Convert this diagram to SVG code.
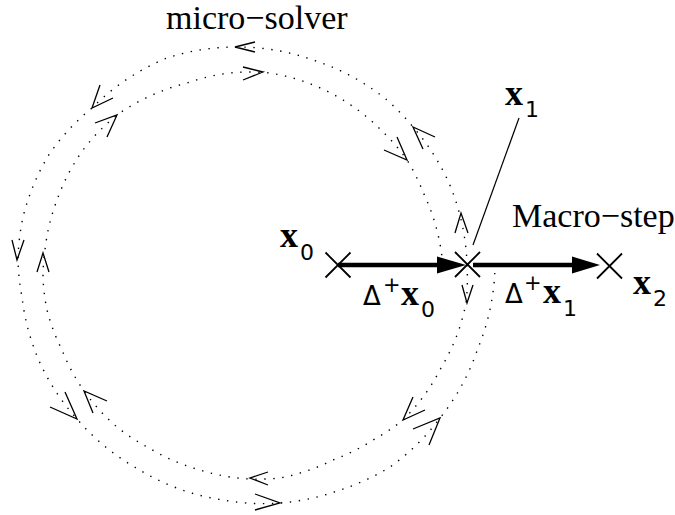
<svg xmlns="http://www.w3.org/2000/svg" width="675" height="515" viewBox="0 0 675 515">
<style>
.dot{fill:none;stroke:#000;stroke-width:1.4;stroke-dasharray:1.4 7.6}
.tick{fill:none;stroke:#000;stroke-width:1.3}
.cross{fill:none;stroke:#000;stroke-width:1.8}
.thick{fill:none;stroke:#000;stroke-width:4.5}
.head{fill:#000;stroke:none}
.lead{fill:none;stroke:#000;stroke-width:1.2}
.serif{font-family:"Liberation Serif","Times New Roman",serif;font-size:34px;fill:#000}
.bx{font-family:"Liberation Serif","Times New Roman",serif;font-weight:bold;font-size:36px;fill:#000}
.sub{font-family:"DejaVu Sans","Liberation Sans",sans-serif;font-size:22px;fill:#000}
.sup{font-family:"DejaVu Sans","Liberation Sans",sans-serif;font-size:21px;fill:#000}
.gr{font-family:"DejaVu Sans","Liberation Sans",sans-serif;font-size:26px;fill:#000}
</style>
<g id="orbits">
<path class="dot" d="M467,265 A225,225 0 0 0 449,183 A225,225 0 0 0 413,127 A225,225 0 0 0 387,100 A225,225 0 0 0 313,60 A225,225 0 0 0 235,47 A225,225 0 0 0 167,58 A225,225 0 0 0 92,108 A225,225 0 0 0 50,153 A225,225 0 0 0 23,217 A225,225 0 0 0 18,262 A225,225 0 0 0 22,297 A225,225 0 0 0 40,363 A225,225 0 0 0 77,419 A225,225 0 0 0 138,469 A225,225 0 0 0 223,500 A225,225 0 0 0 280,503 A225,225 0 0 0 340,490 A225,225 0 0 0 390,467 A225,225 0 0 0 440,418 A225,225 0 0 0 478,348 A225,225 0 0 0 495,258"/>
<path class="dot" d="M467,265 A220,220 0 0 1 466,303 A210,210 0 0 1 457,335 A210,210 0 0 1 441,368 A210,210 0 0 1 423,397 A210,210 0 0 1 403,420 A205,205 0 0 1 373,440 A205,205 0 0 1 333,460 A205,205 0 0 1 280,478 A205,205 0 0 1 250,479 A200,200 0 0 1 200,470 A200,200 0 0 1 149,448 A200,200 0 0 1 117,427 A200,200 0 0 1 84,391 A200,200 0 0 1 62,350 A200,200 0 0 1 47,310 A200,200 0 0 1 43,277 A200,200 0 0 1 45,250 A200,200 0 0 1 57,200 A200,200 0 0 1 83,150 A200,200 0 0 1 117,115 A200,200 0 0 1 157,93 A200,200 0 0 1 187,83 A200,200 0 0 1 230,73 A200,200 0 0 1 270,73 A200,200 0 0 1 343,100 A200,200 0 0 1 383,132 A200,200 0 0 1 407,160 A200,200 0 0 1 423,192 A200,200 0 0 1 433,217 A200,200 0 0 1 442,257"/>
<polyline class="tick" points="255,42 235,47 255,52"/>
<polyline class="tick" points="100,85 92,108 113,98"/>
<polyline class="tick" points="12,240 17,260 24,240"/>
<polyline class="tick" points="50,407 77,419 65,392"/>
<polyline class="tick" points="255,494 280,503 255,510"/>
<polyline class="tick" points="413,429 440,418 429,445"/>
<polyline class="tick" points="423,149 413,127 435,137"/>
<polyline class="tick" points="455,233 461,213 468,233"/>
<polyline class="tick" points="243,67 263,72 243,80"/>
<polyline class="tick" points="95,123 117,115 107,137"/>
<polyline class="tick" points="37,272 43,253 49,272"/>
<polyline class="tick" points="93,413 84,391 107,401"/>
<polyline class="tick" points="268,472 250,478 268,485"/>
<polyline class="tick" points="413,397 403,420 425,410"/>
<polyline class="tick" points="397,137 407,160 384,150"/>
<polyline class="tick" points="462,285 467,303 473,285"/>
</g>
<g id="connectors">
<line class="thick" x1="338" y1="265" x2="440" y2="265"/>
<polygon class="head" points="437,256.5 466,265 437,273.5"/>
<line class="thick" x1="473" y1="265" x2="576" y2="265"/>
<polygon class="head" points="572,256.5 600,265 572,273.5"/>
<line class="lead" x1="473" y1="245" x2="519" y2="118"/>
</g>
<g id="x0">
<path class="cross" d="M325.5,252.5 L350.5,277.5 M325.5,277.5 L350.5,252.5"/>
<text class="bx" x="280" y="247">x</text><text class="sub" x="300" y="260">0</text>
</g>
<g id="x1">
<path class="cross" d="M455,252 L480,277 M455,277 L480,252"/>
<text class="bx" x="505" y="105">x</text><text class="sub" x="525" y="117">1</text>
</g>
<g id="x2">
<path class="cross" d="M597,253.5 L622,278.5 M597,278.5 L622,253.5"/>
<text class="bx" x="633" y="294">x</text><text class="sub" x="653" y="306">2</text>
</g>
<g id="label-dx0">
<text class="gr" x="363" y="305">Δ</text><text class="sup" x="383" y="292">+</text><text class="bx" x="401" y="305">x</text><text class="sub" x="421" y="317">0</text>
</g>
<g id="label-dx1">
<text class="gr" x="505" y="303">Δ</text><text class="sup" x="524" y="290">+</text><text class="bx" x="543" y="303">x</text><text class="sub" x="563" y="316">1</text>
</g>
<g id="labels">
<text class="serif" x="166" y="29">micro−solver</text>
<text class="serif" x="512" y="227">Macro−step</text>
</g>
</svg>
